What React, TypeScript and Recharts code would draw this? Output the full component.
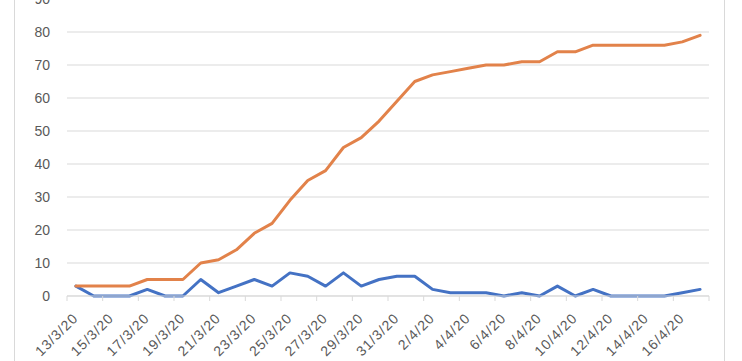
import React from "react";
import { LineChart, Line, XAxis, YAxis, CartesianGrid } from "recharts";

const dates = [
  "13/3/20", "14/3/20", "15/3/20", "16/3/20", "17/3/20", "18/3/20", "19/3/20", "20/3/20", "21/3/20",
  "22/3/20", "23/3/20", "24/3/20", "25/3/20", "26/3/20", "27/3/20", "28/3/20", "29/3/20", "30/3/20",
  "31/3/20", "1/4/20", "2/4/20", "3/4/20", "4/4/20", "5/4/20", "6/4/20", "7/4/20", "8/4/20",
  "9/4/20", "10/4/20", "11/4/20", "12/4/20", "13/4/20", "14/4/20", "15/4/20", "16/4/20", "17/4/20",
];

const daily = [3, 0, 0, 0, 2, 0, 0, 5, 1, 3, 5, 3, 7, 6, 3, 7, 3, 5, 6, 6, 2, 1, 1, 1, 0, 1, 0, 3, 0, 2, 0, 0, 0, 0, 1, 2];

const cumulative = [3, 3, 3, 3, 5, 5, 5, 10, 11, 14, 19, 22, 29, 35, 38, 45, 48, 53, 59, 65, 67, 68, 69, 70, 70, 71, 71, 74, 74, 76, 76, 76, 76, 76, 77, 79];

const yTicks = [0, 10, 20, 30, 40, 50, 60, 70, 80, 90];

const data = dates.map((d, i) => ({ date: d, daily: daily[i], cumulative: cumulative[i] }));

const W = 742;
const H = 362;
const PLOT_LEFT = 67;
const PLOT_RIGHT = 709;
const HALF = (PLOT_RIGHT - PLOT_LEFT) / dates.length / 2;
const FONT = "'Liberation Sans', Arial, sans-serif";
const TEXT = "#595959";
const GRID = "#d9d9d9";

const XTick = (props: any) => {
  const { x, y, payload } = props;
  const isLast = payload.value === dates[dates.length - 2];
  const ax = x + 3;
  const ay = y + 23;
  return (
    <g>
      <line x1={x - HALF} y1={y} x2={x - HALF} y2={y + 5} stroke={GRID} strokeWidth={1} />
      {isLast && (
        <line x1={x + 3 * HALF} y1={y} x2={x + 3 * HALF} y2={y + 5} stroke={GRID} strokeWidth={1} />
      )}
      <text
        x={ax}
        y={ay}
        transform={`rotate(-45, ${ax}, ${ay})`}
        textAnchor="end"
        fill={TEXT}
        fontSize={14}
        letterSpacing={1}
        fontFamily={FONT}
      >
        {payload.value}
      </text>
    </g>
  );
};

export default function App() {
  return (
    <div style={{ position: "absolute", left: 0, top: 0, width: 742, height: 361, overflow: "hidden", background: "#fff" }}>
      <div
        style={{
          position: "absolute",
          left: 14,
          top: -10,
          width: 711,
          height: 400,
          border: `1px solid ${GRID}`,
          boxSizing: "border-box",
        }}
      />
      <div style={{ position: "absolute", left: 0, top: -1 }}>
        <LineChart width={W} height={H} data={data} margin={{ top: 0, right: W - PLOT_RIGHT, bottom: 0, left: 0 }}>
          <CartesianGrid horizontal vertical={false} stroke={GRID} strokeWidth={1} />
          <XAxis
            dataKey="date"
            interval={1}
            height={65}
            axisLine={{ stroke: GRID, strokeWidth: 1 }}
            tickLine={false}
            tickSize={0}
            tickMargin={0}
            padding={{ left: HALF, right: HALF }}
            tick={<XTick />}
          />
          <YAxis
            width={PLOT_LEFT}
            domain={[0, 90]}
            ticks={yTicks}
            interval={0}
            axisLine={false}
            tickLine={false}
            tickSize={6}
            tickMargin={11}
            tick={{ fill: TEXT, fontSize: 14, fontFamily: FONT }}
          />
          <Line
            type="linear"
            dataKey="daily"
            stroke="#4472C4"
            strokeWidth={3}
            dot={false}
            strokeLinejoin="round"
            strokeLinecap="round"
            isAnimationActive={false}
          />
          <Line
            type="linear"
            dataKey="cumulative"
            stroke="#E2824A"
            strokeWidth={3}
            dot={false}
            strokeLinejoin="round"
            strokeLinecap="round"
            isAnimationActive={false}
          />
        </LineChart>
      </div>
    </div>
  );
}
